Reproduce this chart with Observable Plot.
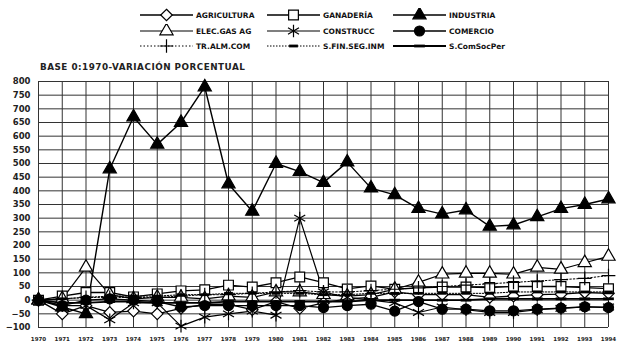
<!DOCTYPE html>
<html><head><meta charset="utf-8">
<script src="https://cdn.jsdelivr.net/npm/d3@7"></script>
<script src="https://cdn.jsdelivr.net/npm/@observablehq/plot@0.6"></script>
<style>
body{margin:0;background:#fff;font-family:"DejaVu Sans",sans-serif;}
#wrap{width:619px;}
#head{position:relative;height:75px;}
.item{position:absolute;height:14px;display:flex;align-items:center;font-weight:bold;font-size:7.5px;color:#111;white-space:nowrap;}
.item svg{margin-right:3px;}
#title{position:absolute;left:40px;top:62px;font-weight:bold;font-size:8.8px;letter-spacing:0.5px;color:#222;white-space:nowrap;}
</style></head><body>
<div id="wrap"><div id="head"></div><div id="chart"></div></div>
<script>
const years = [1970,1971,1972,1973,1974,1975,1976,1977,1978,1979,1980,1981,1982,1983,1984,1985,1986,1987,1988,1989,1990,1991,1992,1993,1994];
const yTicks = [-100,-50,0,50,100,150,200,250,300,350,400,450,500,550,600,650,700,750,800];
const titleText = "BASE 0:1970-VARIACIÓN PORCENTUAL";

const agricultura = [0,-50,-20,-45,-40,-50,-30,-15,-15,-35,-5,-30,-10,5,10,30,20,20,20,10,15,20,22,28,25];
const ganaderia   = [0,15,28,28,12,23,34,38,55,48,64,85,64,41,52,40,45,48,48,46,50,50,50,46,42];
const industria   = [0,-25,-50,480,670,570,650,780,425,325,500,470,430,505,410,385,335,315,330,270,275,305,335,350,370];
const elecGasAg   = [0,5,120,20,5,10,10,5,15,10,30,30,20,15,20,40,65,95,98,98,95,120,113,137,160];
const construcc   = [0,-20,-20,-72,-10,-10,-95,-62,-50,-40,-55,300,30,10,0,-10,-45,-25,-35,-45,-45,-35,-30,-25,-25];
const comercio    = [0,-20,0,5,0,-5,-25,-20,-20,-20,-20,-20,-27,-20,-15,-40,-5,-33,-33,-39,-39,-33,-29,-24,-27];
const trAlmCom    = [0,5,10,10,10,10,15,20,20,25,30,35,30,30,35,40,45,50,55,60,65,70,75,80,90];
const sFinSegInm  = [0,5,10,15,15,15,20,20,25,25,25,25,20,20,25,25,25,25,25,25,30,30,30,30,30];
const sComSocPer  = [0,-10,-10,-5,-5,-10,-10,-10,-5,-5,-5,-5,-5,-5,0,0,0,0,0,5,5,5,5,5,5];

const dashSym = {draw(ctx, size){const w=Math.sqrt(size)*0.55; ctx.rect(-w,-1.4,2*w,2.8);}};

const series = [
  {name:"AGRICULTURA", values:agricultura, symbol:"diamond2", fill:"white", stroke:"black", r:5.2, lw:1.3, dash:null},
  {name:"GANADERÍA", values:ganaderia, symbol:"square", fill:"white", stroke:"black", r:5.5, lw:1.3, dash:null},
  {name:"INDUSTRIA", values:industria, symbol:"triangle", fill:"black", stroke:"black", r:4.9, lw:1.4, dash:null},
  {name:"ELEC.GAS AG", values:elecGasAg, symbol:"triangle", fill:"white", stroke:"black", r:4.9, lw:1.2, dash:null},
  {name:"CONSTRUCC", values:construcc, symbol:"asterisk", fill:"none", stroke:"black", r:6, lw:1.2, dash:null},
  {name:"COMERCIO", values:comercio, symbol:"circle", fill:"black", stroke:"black", r:5, lw:1.3, dash:null},
  {name:"TR.ALM.COM", values:trAlmCom, symbol:"plus", fill:"none", stroke:"black", r:4.5, lw:1, dash:"1.5,2"},
  {name:"S.FIN.SEG.INM", values:sFinSegInm, symbol:dashSym, fill:"black", stroke:"none", r:4.5, lw:1, dash:"1.5,1.5"},
  {name:"S.ComSocPer", values:sComSocPer, symbol:dashSym, fill:"black", stroke:"none", r:5.5, lw:1.8, dash:null}
];

const rows = series.flatMap(s => s.values.map((v,i) => ({series:s.name, year:years[i], value:v})));

// Legend
const head = document.getElementById("head");
const legendCols = [140, 267, 393];
const legendRows = [15, 31, 46];
series.forEach((s,i) => {
  const col = i % 3, row = Math.floor(i/3);
  const div = document.createElement("div");
  div.className = "item";
  div.style.left = legendCols[col] + "px";
  div.style.top = (legendRows[row] - 7) + "px";
  const svg = d3.create("svg").attr("width", 53).attr("height", 14);
  svg.append("line").attr("x1",0).attr("x2",53).attr("y1",7).attr("y2",7)
    .attr("stroke","black").attr("stroke-width", s.lw).attr("stroke-dasharray", s.dash);
  const symType = typeof s.symbol === "string" ? {diamond2:d3.symbolDiamond2, square:d3.symbolSquare, triangle:d3.symbolTriangle, asterisk:d3.symbolAsterisk, circle:d3.symbolCircle, plus:d3.symbolPlus}[s.symbol] : s.symbol;
  svg.append("path").attr("transform","translate(26.5,7)")
    .attr("d", d3.symbol(symType, Math.PI*s.r*s.r)())
    .attr("fill", s.fill).attr("stroke", s.stroke === "none" ? null : s.stroke).attr("stroke-width", 1.2);
  div.appendChild(svg.node());
  const t = document.createElement("span");
  t.textContent = s.name;
  div.appendChild(t);
  head.appendChild(div);
});
const tt = document.createElement("div");
tt.id = "title"; tt.textContent = titleText;
head.appendChild(tt);

const marks = [
  Plot.ruleX(years, {y1:-100, y2:800, stroke:"#333", strokeWidth:1}),
  Plot.ruleY(yTicks, {x1:1970, x2:1994, stroke:"#333", strokeWidth:1}),
  Plot.axisY(yTicks, {tickSize:0, tickPadding:8, fontSize:8.5, fontWeight:"bold", fill:"#222", label:null}),
  Plot.axisX(years, {tickSize:0, tickPadding:10, fontSize:5.5, fontWeight:"bold", tickFormat:d=>String(d), fill:"#222", label:null})
];
series.forEach(s => {
  const d = rows.filter(r => r.series === s.name);
  marks.push(Plot.line(d, {x:"year", y:"value", stroke:"black", strokeWidth:s.lw, strokeDasharray:s.dash}));
});
series.forEach(s => {
  const d = rows.filter(r => r.series === s.name);
  marks.push(Plot.dot(d, {x:"year", y:"value", symbol:()=>s.symbol, r:s.r, fill:s.fill, stroke:s.stroke, strokeWidth:1.2}));
});

const chart = Plot.plot({
  width:619, height:274,
  marginTop:6, marginLeft:38, marginRight:11, marginBottom:22,
  style:{fontFamily:"DejaVu Sans", background:"white"},
  x:{domain:[1970,1994], axis:null, label:null},
  y:{domain:[-100,800], axis:null, label:null},
  symbol:{type:"identity"},
  marks
});
document.getElementById("chart").appendChild(chart);
</script>
</body></html>
